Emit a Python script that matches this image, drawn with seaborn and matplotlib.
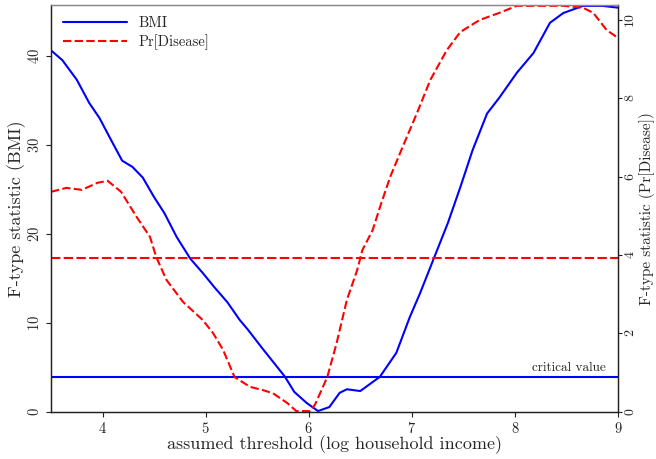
import matplotlib
matplotlib.use("Agg")
import matplotlib.pyplot as plt
import seaborn as sns
import numpy as np

# ---- data ----
bmi_x = [3.50, 3.61, 3.75, 3.87, 3.97, 4.07, 4.19, 4.29, 4.39, 4.50, 4.60, 4.72,
         4.85, 4.97, 5.09, 5.21, 5.33, 5.41, 5.55, 5.77, 5.86, 5.98, 6.09, 6.20,
         6.30, 6.37, 6.50, 6.69, 6.85, 6.98, 7.08, 7.22, 7.35, 7.47, 7.59, 7.73,
         7.85, 8.02, 8.18, 8.34, 8.47, 8.66, 8.85, 9.00]
bmi_f = [40.6, 39.5, 37.3, 34.7, 33.0, 30.8, 28.2, 27.5, 26.3, 24.1, 22.3, 19.6,
         17.2, 15.6, 13.9, 12.3, 10.3, 9.2, 7.1, 3.9, 2.2, 0.96, 0.05, 0.5,
         2.1, 2.5, 2.3, 3.9, 6.6, 10.6, 13.3, 17.4, 21.2, 25.2, 29.4, 33.5,
         35.3, 38.1, 40.3, 43.7, 44.8, 45.6, 45.6, 45.4]

dis_x = [3.50, 3.65, 3.80, 3.95, 4.05, 4.18, 4.33, 4.46, 4.52, 4.62, 4.78, 4.97,
         5.07, 5.17, 5.28, 5.43, 5.55, 5.65, 5.79, 5.88, 6.01, 6.06, 6.18, 6.27,
         6.37, 6.47, 6.52, 6.62, 6.69, 6.79, 6.91, 7.05, 7.18, 7.34, 7.47, 7.66,
         7.85, 8.02, 8.47, 8.66, 8.76, 8.89, 9.00]
dis_f = [5.61, 5.71, 5.66, 5.84, 5.89, 5.61, 4.97, 4.46, 3.95, 3.36, 2.80, 2.34,
         2.01, 1.57, 0.88, 0.63, 0.55, 0.47, 0.22, 0.01, 0.01, 0.17, 0.88, 1.74,
         2.85, 3.61, 4.12, 4.63, 5.21, 5.99, 6.75, 7.62, 8.47, 9.23, 9.69, 10.00,
         10.18, 10.36, 10.36, 10.31, 10.18, 9.74, 9.54]

crit_bmi = 3.84
crit_dis = 3.92

series_labels = ["BMI", "Pr[Disease]"]
x_ticks = [4, 5, 6, 7, 8, 9]
left_ticks = [0, 10, 20, 30, 40]
right_ticks = [0, 2, 4, 6, 8, 10]

# ---- styling ----
sns.set_style("ticks")
plt.rcParams["font.family"] = ["cmr10", "DejaVu Serif"]
plt.rcParams["mathtext.fontset"] = "cm"
plt.rcParams["axes.formatter.use_mathtext"] = True
plt.rcParams["axes.unicode_minus"] = False

W, H = 656, 459
fig = plt.figure(figsize=(W / 100, H / 100), dpi=100)
ax = fig.add_axes([51 / W, (H - 411.5) / H, (618 - 51) / W, (411.5 - 5) / H])
ax2 = ax.twinx()

dash = (4, 1.6)
sns.lineplot(x=bmi_x, y=bmi_f, ax=ax, color="#0000ff", lw=1.5,
             estimator=None, label=series_labels[0], legend=False)
sns.lineplot(x=dis_x, y=dis_f, ax=ax2, color="#ff0000", lw=1.5,
             estimator=None, label=series_labels[1], legend=False)
ax2.lines[0].set_dashes(dash)

ax.axhline(crit_bmi, color="#0000ff", lw=1.5)
ax2.axhline(crit_dis, color="#ff0000", lw=1.5, dashes=(4.5, 1.6))

ax.text(8.88, crit_bmi + 0.4, "critical value", ha="right", va="bottom",
        fontsize=9.5)

ax.set_xlim(3.5, 9)
ax.set_ylim(0, 45.7)
ax2.set_ylim(0, 10.38)
ax.set_xticks(x_ticks)
ax.set_yticks(left_ticks)
ax2.set_yticks(right_ticks)

for a in (ax, ax2):
    a.tick_params(direction="out", length=3.5, width=0.8, labelsize=10.5,
                  color="#222222", pad=3)
    for s in a.spines.values():
        s.set_linewidth(0.9)
        s.set_color("#222222")
    a.spines["top"].set_color("#888888")
    a.spines["top"].set_visible(True)
    a.spines["right"].set_visible(True)
ax2.tick_params(axis="y", length=3, pad=1.5, labelsize=10)

for lab in ax.get_yticklabels():
    lab.set_rotation(90)
    lab.set_va("center")
for lab in ax2.get_yticklabels():
    lab.set_rotation(90)
    lab.set_va("center")

ax.set_xlabel("assumed threshold (log household income)", fontsize=13,
              labelpad=0)
ax.set_ylabel("F-type statistic (BMI)", fontsize=13, labelpad=1)
ax2.set_ylabel("F-type statistic (Pr[Disease])", fontsize=11, labelpad=1)

h1, l1 = ax.get_legend_handles_labels()
h2, l2 = ax2.get_legend_handles_labels()
ax.legend(h1 + h2, l1 + l2, loc="upper left", frameon=False, fontsize=10.5,
          handlelength=4.4, borderaxespad=0.4, labelspacing=0.3)

fig.savefig("out.png", dpi=100)
